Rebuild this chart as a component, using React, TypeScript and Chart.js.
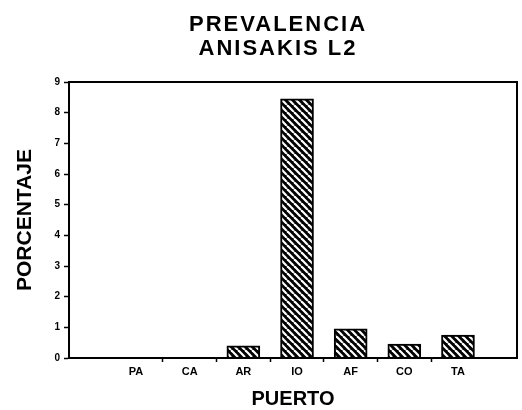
import React, { useEffect, useRef } from 'react';
import { Chart, registerables } from 'chart.js';

Chart.register(...registerables);

// ---- data ----
const titleLines: string[] = ['PREVALENCIA', 'ANISAKIS L2'];
const categories: string[] = ['PA', 'CA', 'AR', 'IO', 'AF', 'CO', 'TA'];
const categoryPositions: number[] = [1, 2, 3, 4, 5, 6, 7];
const prevalence: number[] = [0, 0, 0.4, 8.45, 0.95, 0.45, 0.75];
const yTickValues: number[] = [0, 1, 2, 3, 4, 5, 6, 7, 8, 9];
const xAxisTitle = 'PUERTO';
const yAxisTitle = 'PORCENTAJE';

const FONT = '"Liberation Sans", Arial, Helvetica, sans-serif';

function makeHatch(): CanvasPattern | string {
  const s = 7;
  const c = document.createElement('canvas');
  c.width = s;
  c.height = s;
  const g = c.getContext('2d');
  if (!g) return '#000';
  g.fillStyle = '#000';
  g.fillRect(0, 0, s, s);
  g.strokeStyle = '#fff';
  g.lineWidth = 2.2;
  for (const x0 of [-s, 0, s]) {
    g.beginPath();
    g.moveTo(x0, 0);
    g.lineTo(x0 + s, s);
    g.stroke();
  }
  const p = g.createPattern(c, 'repeat');
  return p || '#000';
}

const titlePlugin = {
  id: 'customTitle',
  afterDraw(chart: any) {
    const ctx = chart.ctx as CanvasRenderingContext2D;
    ctx.save();
    ctx.fillStyle = '#000';
    ctx.font = `bold 22px ${FONT}`;
    (ctx as any).letterSpacing = '2px';
    ctx.textAlign = 'center';
    ctx.textBaseline = 'alphabetic';
    const baselines = [31, 55];
    titleLines.forEach((t, i) => ctx.fillText(t, 278, baselines[i]));
    ctx.restore();
  },
};

const framePlugin = {
  id: 'frame',
  afterDatasetsDraw(chart: any) {
    const { ctx, chartArea } = chart;
    ctx.save();
    ctx.strokeStyle = '#000';
    ctx.lineWidth = 2;
    ctx.strokeRect(chartArea.left, chartArea.top, chartArea.right - chartArea.left, chartArea.bottom - chartArea.top);
    ctx.restore();
  },
};

export default function App() {
  const ref = useRef<HTMLCanvasElement | null>(null);

  useEffect(() => {
    if (!ref.current) return;
    const hatch = makeHatch();
    const chart = new Chart(ref.current, {
      type: 'bar',
      data: {
        datasets: [
          {
            data: prevalence.map((v, i) => ({ x: categoryPositions[i], y: v })),
            backgroundColor: hatch as any,
            borderColor: '#000',
            borderWidth: 2,
            barThickness: 33,
          },
        ],
      },
      options: {
        animation: false,
        responsive: false,
        devicePixelRatio: 1,
        layout: { padding: { top: 82, right: 5, left: 0, bottom: 0 } },
        plugins: {
          legend: { display: false },
          title: { display: false },
          tooltip: { enabled: false },
        },
        scales: {
          x: {
            type: 'linear',
            offset: false,
            min: -0.25,
            max: 8.1,
            afterBuildTicks: (scale: any) => {
              scale.ticks = categoryPositions.map((v) => ({ value: v }));
            },
            afterFit: (scale: any) => {
              scale.height = 52;
            },
            ticks: {
              autoSkip: false,
              maxRotation: 0,
              color: '#000',
              padding: 3,
              font: { family: FONT, size: 11, weight: 'bold' },
              callback: (value: any) => categories[categoryPositions.indexOf(Number(value))] ?? '',
            },
            grid: {
              offset: true,
              drawOnChartArea: false,
              tickLength: 4,
              tickWidth: 1.5,
              tickColor: (ctx: any) =>
                ctx.index === 0 || ctx.index === undefined ? 'rgba(0,0,0,0)' : '#000',
            },
            border: { display: true, color: '#000', width: 2 },
            title: {
              display: true,
              text: xAxisTitle,
              color: '#000',
              font: { family: FONT, size: 20, weight: 'bold', lineHeight: 1.1 },
              padding: { top: 0, bottom: 0 },
            },
          } as any,
          y: {
            type: 'linear',
            min: 0,
            max: 9,
            afterBuildTicks: (scale: any) => {
              scale.ticks = yTickValues.map((v) => ({ value: v }));
            },
            afterFit: (scale: any) => {
              scale.width = 69;
            },
            ticks: {
              color: '#000',
              padding: 4,
              font: { family: FONT, size: 10, weight: 'bold' },
            },
            grid: {
              drawOnChartArea: false,
              tickLength: 5,
              tickWidth: 1.5,
              tickColor: '#000',
            },
            border: { display: true, color: '#000', width: 2 },
            title: {
              display: true,
              text: yAxisTitle,
              color: '#000',
              font: { family: FONT, size: 21, weight: 'bold' },
              padding: { top: 13, bottom: 0 },
            },
          } as any,
        },
      },
      plugins: [titlePlugin, framePlugin],
    });
    return () => chart.destroy();
  }, []);

  return (
    <div style={{ position: 'fixed', left: 0, top: 0, width: 522, height: 410, background: '#fff' }}>
      <canvas ref={ref} width={522} height={410} />
    </div>
  );
}
